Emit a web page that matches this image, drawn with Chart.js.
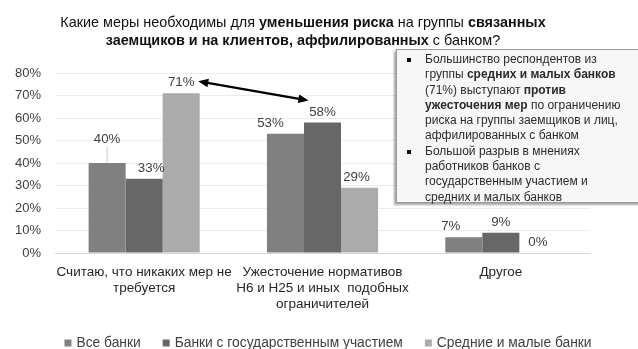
<!DOCTYPE html>
<html>
<head>
<meta charset="utf-8">
<title>Меры по снижению риска</title>
<script src="https://cdn.jsdelivr.net/npm/chart.js"></script>
<style>
    body { margin: 0; background: #fff; font-family: "Liberation Sans", Arial, sans-serif; }
    #wrap { position: relative; width: 638px; height: 349px; overflow: hidden; }
    #title {
        position: absolute; left: 0; top: 14px; width: 606px;
        text-align: center; font-size: 14.4px; line-height: 17.5px; color: #111;
    }
    #note {
        position: absolute; left: 396px; top: 49px; width: 250px; height: 154px;
        background: #f7f7f7; border: 1px solid #9a9a9a;
        box-shadow: -2px 2px 2px rgba(0,0,0,0.35);
        font-size: 12px; line-height: 15.3px; color: #2b2b2b;
        white-space: nowrap; box-sizing: border-box; padding: 2px 0 0 28px;
    }
    #note .item { position: relative; }
    #note .item::before {
        content: ""; position: absolute; left: -18px; top: 6px;
        width: 4px; height: 4px; background: #111;
    }
    canvas { position: absolute; left: 0; top: 0; }
</style>
</head>
<body>
<div id="wrap">
    <canvas id="chart" width="638" height="349"></canvas>
    <div id="title">Какие меры необходимы для <b>уменьшения риска</b> на группы <b>связанных</b><br><b>заемщиков и на клиентов, аффилированных</b> с банком?</div>
    <div id="note">
        <div class="item">Большинство респондентов из<br>группы <b>средних и малых банков</b><br>(71%) выступают <b>против</b><br><b>ужесточения мер</b> по ограничению<br>риска на группы заемщиков и лиц,<br>аффилированных с банком</div>
        <div class="item">Большой разрыв в мнениях<br>работников банков с<br>государственным участием и<br>средних и малых банков</div>
    </div>
</div>
<script>
    // категории и ответы (%)
    const categories = [
        ['Считаю, что никаких мер не', 'требуется'],
        ['Ужесточение нормативов', 'Н6 и Н25 и иных  подобных', 'ограничителей'],
        'Другое'
    ];
    const allBanks = [40, 53, 7];
    const stateBanks = [33, 58, 9];
    const smallBanks = [71, 29, 0];
    const seriesNames = ['Все банки', 'Банки с государственным участием', 'Средние и малые банки'];
    const seriesColors = ['#808080', '#676767', '#ababab'];

    // сдвиги подписей [dx, dy], чтобы не наезжали друг на друга
    const labelShift = [
        [[0, -13.5], [-15, 0], [-13, 0]],
        [[7, 0], [0, 0], [0, 0]],
        [[0, 0], [-3, 0], [0, 0]]
    ];

    const valueLabels = {
        id: 'valueLabels',
        afterDatasetsDraw(chart) {
            const ctx = chart.ctx;
            ctx.save();
            ctx.font = '13.3px "Liberation Sans", Arial, sans-serif';
            ctx.textAlign = 'center';
            ctx.textBaseline = 'middle';
            chart.data.datasets.forEach((ds, di) => {
                chart.getDatasetMeta(di).data.forEach((bar, i) => {
                    const [dx, dy] = labelShift[di][i];
                    const x = bar.x + dx;
                    const y = bar.y - 10.5 + dy;
                    if (dy < 0) {
                        // выноска от подписи к столбцу
                        ctx.strokeStyle = '#c8c8c8';
                        ctx.lineWidth = 1;
                        ctx.beginPath();
                        ctx.moveTo(bar.x, y + 8);
                        ctx.lineTo(bar.x, bar.y);
                        ctx.stroke();
                    }
                    ctx.fillStyle = '#404040';
                    ctx.fillText(ds.data[i] + '%', x, y);
                });
            });
            ctx.restore();
        }
    };

    function arrowHead(ctx, x, y, ang) {
        ctx.beginPath();
        ctx.moveTo(x, y);
        ctx.lineTo(x - 11 * Math.cos(ang - 0.4), y - 11 * Math.sin(ang - 0.4));
        ctx.lineTo(x - 11 * Math.cos(ang + 0.4), y - 11 * Math.sin(ang + 0.4));
        ctx.closePath();
        ctx.fill();
    }

    // двусторонняя стрелка между 71% и 58%
    const gapArrow = {
        id: 'gapArrow',
        afterDatasetsDraw(chart) {
            const a = chart.getDatasetMeta(2).data[0];
            const b = chart.getDatasetMeta(1).data[1];
            const x1 = a.x + 17, y1 = a.y - 12;
            const x2 = b.x - 14, y2 = b.y - 22;
            const ang = Math.atan2(y2 - y1, x2 - x1);
            const ctx = chart.ctx;
            ctx.save();
            ctx.strokeStyle = '#000';
            ctx.fillStyle = '#000';
            ctx.lineWidth = 2.5;
            ctx.beginPath();
            ctx.moveTo(x1 + 8 * Math.cos(ang), y1 + 8 * Math.sin(ang));
            ctx.lineTo(x2 - 8 * Math.cos(ang), y2 - 8 * Math.sin(ang));
            ctx.stroke();
            arrowHead(ctx, x2, y2, ang);
            arrowHead(ctx, x1, y1, ang + Math.PI);
            ctx.restore();
        }
    };

    // легенда внизу
    const bottomLegend = {
        id: 'bottomLegend',
        afterDraw(chart) {
            const ctx = chart.ctx;
            ctx.save();
            ctx.font = '13.8px "Liberation Sans", Arial, sans-serif';
            ctx.textBaseline = 'middle';
            const box = 7, gap = 5, spacing = 22;
            const items = chart.data.datasets.map(ds => ({
                text: ds.label, color: ds.backgroundColor,
                w: box + gap + ctx.measureText(ds.label).width
            }));
            const total = items.reduce((s, it) => s + it.w, 0) + spacing * (items.length - 1);
            let x = 328 - total / 2;
            const y = 343;
            items.forEach(it => {
                ctx.fillStyle = it.color;
                ctx.fillRect(x, y - box / 2, box, box);
                ctx.fillStyle = '#404040';
                ctx.fillText(it.text, x + box + gap, y);
                x += it.w + spacing;
            });
            ctx.restore();
        }
    };

    new Chart(document.getElementById('chart'), {
        type: 'bar',
        data: {
            labels: categories,
            datasets: [allBanks, stateBanks, smallBanks].map((d, i) => ({
                label: seriesNames[i],
                data: d,
                backgroundColor: seriesColors[i],
                categoryPercentage: 0.623,
                barPercentage: 1
            }))
        },
        options: {
            responsive: false,
            animation: false,
            layout: { padding: { top: 73, right: 48, bottom: 36, left: 0 } },
            plugins: { legend: { display: false }, tooltip: { enabled: false } },
            scales: {
                x: {
                    grid: { display: false, drawTicks: false },
                    border: { color: '#d9d9d9' },
                    ticks: {
                        padding: 11,
                        color: '#262626',
                        maxRotation: 0,
                        autoSkip: false,
                        font: { family: '"Liberation Sans", Arial, sans-serif', size: 13.5, lineHeight: 1.2 }
                    },
                    afterFit(s) { s.height = 60; }
                },
                y: {
                    min: 0, max: 80,
                    grid: { color: '#ececec', drawTicks: false },
                    border: { display: false },
                    ticks: {
                        stepSize: 10,
                        padding: 14,
                        color: '#404040',
                        font: { family: '"Liberation Sans", Arial, sans-serif', size: 13 },
                        callback: v => v + '%'
                    },
                    afterFit(s) { s.width = 55; }
                }
            }
        },
        plugins: [valueLabels, gapArrow, bottomLegend]
    });
</script>
</body>
</html>
